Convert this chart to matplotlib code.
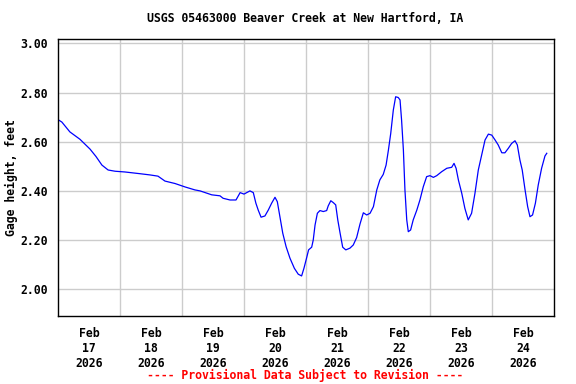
import numpy as np
import matplotlib
matplotlib.use('Agg')
import matplotlib.pyplot as plt

# Gage height readings, hours after Feb 17 2026 00:00
hours = [0, 1.5, 4.6, 8.5, 12.4, 14.7, 17.0, 19.4, 22.1, 25.9, 31.7, 35.6, 38.7, 41.4,
         45.3, 49.2, 53.0, 55.0, 59.5, 62.7, 63.9, 66.6, 68.9, 70.5, 72.0, 74.3, 75.6,
         76.6, 77.5, 78.6, 80.1, 81.4, 82.7, 84.0, 84.9, 85.9, 87.0, 88.3, 89.8, 91.5,
         93.0, 94.3, 95.2, 96.3, 97.0, 98.2, 98.8, 99.5, 100.4, 101.4, 102.7, 104.0,
         104.6, 105.6, 106.6, 107.5, 108.3, 109.2, 110.2, 111.4, 113.0, 114.3, 115.6,
         116.9, 118.2, 119.5, 120.8, 122.1, 123.4, 124.6, 125.9, 127.0, 127.9, 128.8,
         129.8, 130.7, 131.7, 132.4, 133.0, 133.7, 134.3, 135.0, 135.6, 136.5, 137.5,
         138.9, 140.1, 141.4, 142.7, 144.0, 145.3, 146.6, 148.5, 150.5, 152.4, 153.3,
         154.1, 155.0, 156.3, 157.5, 158.8, 160.1, 161.4, 162.7, 164.0, 165.3, 166.6,
         167.9, 169.2, 170.4, 171.8, 173.0, 174.3, 175.6, 176.9, 177.8, 178.8, 179.7,
         180.8, 181.8, 182.7, 183.7, 184.8, 185.9, 187.2, 188.5, 189.2]
gage_ft = [2.69, 2.68, 2.64, 2.61, 2.57, 2.54, 2.505, 2.485, 2.48, 2.477, 2.47, 2.465, 2.46,
           2.44, 2.43, 2.416, 2.404, 2.40, 2.384, 2.38, 2.37, 2.363, 2.363, 2.393, 2.387,
           2.40, 2.393, 2.35, 2.322, 2.293, 2.298, 2.322, 2.35, 2.374, 2.356, 2.295, 2.228,
           2.173, 2.126, 2.085, 2.061, 2.054, 2.085, 2.13, 2.16, 2.171, 2.20, 2.261, 2.309,
           2.32, 2.316, 2.32, 2.339, 2.36, 2.352, 2.343, 2.282, 2.228, 2.171, 2.16, 2.167,
           2.18, 2.21, 2.265, 2.311, 2.302, 2.309, 2.336, 2.404, 2.445, 2.467, 2.505, 2.566,
           2.634, 2.729, 2.783, 2.78, 2.77, 2.688, 2.566, 2.404, 2.282, 2.234, 2.241, 2.282,
           2.322, 2.363, 2.417, 2.458, 2.462, 2.455, 2.462, 2.478, 2.492, 2.496, 2.512,
           2.492, 2.444, 2.39, 2.329, 2.282, 2.309, 2.39, 2.485, 2.546, 2.607, 2.631, 2.627,
           2.607, 2.587, 2.555, 2.555, 2.573, 2.593, 2.604, 2.587, 2.526, 2.485, 2.404,
           2.336, 2.295, 2.302, 2.35, 2.424, 2.492, 2.542, 2.553]

days = ['17', '18', '19', '20', '21', '22', '23', '24']
day_labels = ['Feb\n' + d + '\n2026' for d in days]
y_ticks = [2.0, 2.2, 2.4, 2.6, 2.8, 3.0]

mono = {'family': 'DejaVu Sans Mono', 'weight': 'bold', 'size': 8.3}

fig = plt.figure(figsize=(5.76, 3.84), dpi=100)
ax = fig.add_axes([58/576, 1 - 316/384, (554 - 58)/576, (316 - 39)/384])

ax.plot(hours, gage_ft, color='#0000ff', lw=0.9)

ax.set_xlim(0, 192)
ax.set_ylim(1.891, 3.018)

# labels sit mid-day, grid lines at midnight
ax.set_xticks([12 + 24*i for i in range(len(days))])
ax.set_xticklabels(day_labels, fontdict=mono, linespacing=1.2)
ax.set_xticks([24*i for i in range(1, len(days))], minor=True)
ax.set_yticks(y_ticks)
ax.set_yticklabels(['%.2f' % v for v in y_ticks], fontdict=mono)

ax.grid(which='minor', axis='x', color='#cccccc', lw=1)
ax.grid(which='major', axis='y', color='#cccccc', lw=1)
ax.set_axisbelow(True)
ax.tick_params(which='both', length=0)
ax.tick_params(axis='x', pad=8)
ax.tick_params(axis='y', pad=7)
for s in ax.spines.values():
    s.set_linewidth(1)
    s.set_color('black')

ax.set_ylabel('Gage height, feet', fontdict=mono)
ax.yaxis.set_label_coords((18 - 58)/496, 0.5)
fig.text(305/576, 1 - 19/384, 'USGS 05463000 Beaver Creek at New Hartford, IA',
         ha='center', va='center', **mono)
fig.text(305/576, 1 - 375/384, '---- Provisional Data Subject to Revision ----',
         ha='center', va='center', color='red', **mono)

fig.savefig('out.png', dpi=100)
